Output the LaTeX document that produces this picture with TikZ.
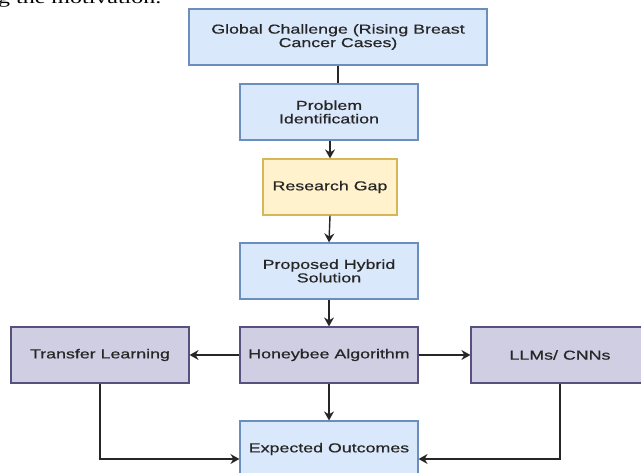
\documentclass[tikz,border=0pt]{standalone}
\usepackage{fontspec}
\setmainfont{Liberation Sans}[FakeStretch=1.37,FakeBold=0.6]
\newfontfamily\topserif{Liberation Serif}[FakeStretch=1.37]
\usetikzlibrary{arrows.meta}
\definecolor{bluefill}{HTML}{DAE8FC}
\definecolor{blueline}{HTML}{6C8EBF}
\definecolor{yelfill}{HTML}{FFF2CC}
\definecolor{yelline}{HTML}{D6B656}
\definecolor{purfill}{HTML}{D0CEE2}
\definecolor{purline}{HTML}{56517E}
\definecolor{txt}{HTML}{262626}
\definecolor{conn}{HTML}{262626}
\tikzset{
  box/.style={rectangle, draw, line width=1.2pt, minimum width=178pt, minimum height=56pt,
    inner sep=0pt, align=center, text=txt,
    font=\fontsize{13}{13.5}\selectfont},
  bluebox/.style={box, fill=bluefill, draw=blueline},
  yelbox/.style={box, fill=yelfill, draw=yelline},
  purbox/.style={box, fill=purfill, draw=purline},
  link/.style={draw=conn, line width=1.4pt},
  arr/.style={link, -{Stealth[length=9pt,width=10pt,inset=3pt]}},
}
\begin{document}
\begin{tikzpicture}[x=1pt,y=-1pt]
\useasboundingbox (0,0) rectangle (641,473);
\clip (0,0) rectangle (641,473);
\node[anchor=base west, inner sep=0pt, font=\topserif\fontsize{17.5}{18}\selectfont] (top) at (-2,3.5) {g the motivation.};

\node[bluebox, minimum width=298pt] (glob) at (338,37) {Global Challenge (Rising Breast\\Cancer Cases)};
\node[bluebox] (prob) at (329,112) {Problem\\Identification};
\node[yelbox, minimum width=134pt] (res) at (330,187) {Research Gap};
\node[bluebox] (prop) at (329,271) {Proposed Hybrid\\Solution};
\node[purbox] (hb) at (329,355) {Honeybee Algorithm};
\node[purbox] (tl) at (100,355) {Transfer Learning};
\node[purbox] (llm) at (560,355) {LLMs/ CNNs};
\node[bluebox] (eo) at (329,449) {Expected Outcomes};

\draw[link] (glob.south) -- (glob.south |- prob.north);
\draw[arr, line width=2.2pt] (res.north |- prob.south) -- (res.north);
\draw[arr] (res.south) -- (prop.north);
\draw[arr] (prop.south) -- (hb.north);
\draw[arr] (hb.west) -- (tl.east);
\draw[arr] (hb.east) -- (llm.west);
\draw[arr] (hb.south) -- (eo.north);
\draw[arr] (tl.south) |- ([yshift=-10pt]eo.west);
\draw[arr] (llm.south) |- ([yshift=-10pt]eo.east);
\end{tikzpicture}
\end{document}
